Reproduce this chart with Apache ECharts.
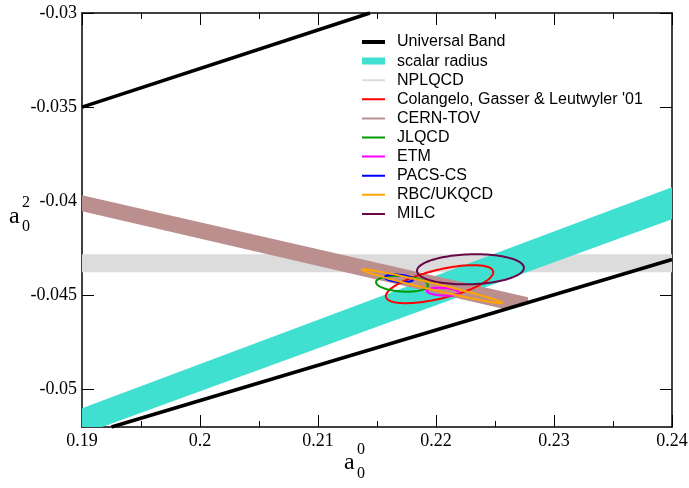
<!DOCTYPE html>
<html>
<head>
<meta charset="utf-8">
<script src="https://cdn.jsdelivr.net/npm/echarts@6/dist/echarts.min.js"></script>
<style>html,body{margin:0;padding:0;background:#fff}#chart{width:689px;height:488px}</style>
</head>
<body>
<div id="chart"></div>
<script>
// ---- axes ----
const xMin = 0.19, xMax = 0.24, xInterval = 0.01;
const yMin = -0.052, yMax = -0.03;
const xTickLabels = ['0.19', '0.2', '0.21', '0.22', '0.23', '0.24'];
const yTickValues = [-0.05, -0.045, -0.04, -0.035, -0.03];
const yTickLabels = ['-0.05', '-0.045', '-0.04', '-0.035', '-0.03'];

// ---- Universal Band (two black boundary lines) ----
const universalUpper = [[0.19, -0.035], [0.2144, -0.03]];
const universalLower = [[0.1925, -0.052], [0.24, -0.0431]];

// ---- bands (polygon outlines) ----
const scalarRadiusBand = [[0.19, -0.0510], [0.24, -0.03926], [0.24, -0.04096], [0.1917, -0.052], [0.19, -0.052]];
const nplqcdBand = [[0.19, -0.04282], [0.24, -0.04282], [0.24, -0.04378], [0.19, -0.04378]];
const cernTovBand = [[0.19, -0.03968], [0.2278, -0.04511], [0.2278, -0.04537], [0.22585, -0.04574], [0.19, -0.04053]];

// ---- error ellipses: [centre a0^0, centre a0^2, half-width, half-height, correlation] ----
const colangelo = [0.2203, -0.04441, 0.00455, 0.00101, 0.63];
const jlqcd = [0.21712, -0.04439, 0.0022, 0.00042, -0.2];
const etm = [0.22059, -0.04481, 0.00136, 0.00021, -0.2];
const pacsCs = [0.21686, -0.0441, 0.00119, 0.0002, -0.3];
const rbcUkqcd = [0.21966, -0.04452, 0.00593, 0.0009, -0.98];
const milc = [0.22292, -0.04362, 0.00453, 0.0008, 0.1];

const C = {
  universal: '#000000', scalar: '#40e0d0', nplqcd: '#dcdcdc', colangelo: '#ff0000',
  cern: '#bc8f8f', jlqcd: '#009a00', etm: '#ff00ff', pacs: '#0000ff', rbc: '#ffa500', milc: '#670748'
};

function bandSeries(name, pts, color, z) {
  return {
    name, type: 'custom', clip: true, z,
    data: pts, encode: { x: 0, y: 1 },
    renderItem(params, api) {
      if (params.dataIndex !== 0) return null;
      return { type: 'polygon', shape: { points: pts.map(p => api.coord(p)) }, style: { fill: color, stroke: null } };
    }
  };
}
function ellipseSeries(name, e, color, lw) {
  return {
    name, type: 'custom', clip: true, z: 10,
    data: [e], encode: { x: 0, y: 1 },
    renderItem(params, api) {
      const cx = api.value(0), cy = api.value(1), dx = api.value(2), dy = api.value(3), r = api.value(4);
      const s = Math.sqrt(1 - r * r), pts = [];
      for (let k = 0; k < 120; k++) {
        const t = 2 * Math.PI * k / 120;
        pts.push(api.coord([cx + dx * Math.cos(t), cy + dy * (r * Math.cos(t) + s * Math.sin(t))]));
      }
      return { type: 'polygon', shape: { points: pts }, style: { fill: 'none', stroke: color, lineWidth: lw } };
    }
  };
}
function icon(t) {
  const a = (7 - t / 2).toFixed(2);
  return 'path://M0,0h0.01v0.01h-0.01z M29.99,13.99h0.01v0.01h-0.01z M0,' + a + 'h23v' + t + 'h-23z';
}
const legendItems = [
  ['Universal Band', C.universal, 4], ['scalar radius', C.scalar, 7], ['NPLQCD', C.nplqcd, 2],
  ["Colangelo, Gasser & Leutwyler '01", C.colangelo, 2], ['CERN-TOV', C.cern, 2], ['JLQCD', C.jlqcd, 2],
  ['ETM', C.etm, 2], ['PACS-CS', C.pacs, 2], ['RBC/UKQCD', C.rbc, 2], ['MILC', C.milc, 2]
];

const serif = 'Liberation Serif';
const axisCommon = {
  type: 'value', splitLine: { show: false },
  axisLine: { show: true, onZero: false, lineStyle: { color: '#000', width: 1.5 } }
};
const xTickIdx = v => Math.round((v - xMin) / xInterval);
const yTickIdx = v => { let b = 0; yTickValues.forEach((t, i) => { if (Math.abs(t - v) < Math.abs(yTickValues[b] - v)) b = i; }); return b; };

const chart = echarts.init(document.getElementById('chart'), null, { renderer: 'canvas' });
chart.setOption({
  animation: false,
  backgroundColor: '#fff',
  grid: { left: 82, right: 17, top: 13, bottom: 61, containLabel: false, outerBoundsMode: 'none' },
  xAxis: [
    Object.assign({}, axisCommon, {
      position: 'bottom', min: xMin, max: xMax, interval: xInterval,
      axisTick: { show: true, inside: true, length: 12, lineStyle: { color: '#000', width: 1 } },
      minorTick: { show: true, splitNumber: 2, length: 6, lineStyle: { color: '#000', width: 1 } },
      axisLabel: { margin: 5, color: '#000', fontFamily: serif, fontSize: 18, formatter: v => xTickLabels[xTickIdx(v)] }
    }),
    Object.assign({}, axisCommon, {
      position: 'top', min: xMin, max: xMax, interval: xInterval,
      axisTick: { show: true, inside: true, length: 12, lineStyle: { color: '#000', width: 1 } },
      minorTick: { show: true, splitNumber: 2, length: 6, lineStyle: { color: '#000', width: 1 } },
      axisLabel: { show: false }
    })
  ],
  yAxis: [
    Object.assign({}, axisCommon, {
      position: 'left', min: yMin, max: yMax,
      axisTick: { show: true, inside: true, length: 12, customValues: yTickValues, lineStyle: { color: '#000', width: 1 } },
      axisLabel: { margin: 5, color: '#000', fontFamily: serif, fontSize: 18, customValues: yTickValues, formatter: v => yTickLabels[yTickIdx(v)] }
    }),
    Object.assign({}, axisCommon, {
      position: 'right', min: yMin, max: yMax,
      axisTick: { show: true, inside: true, length: 12, customValues: yTickValues, lineStyle: { color: '#000', width: 1 } },
      axisLabel: { show: false }
    })
  ],
  legend: {
    orient: 'vertical', left: 362, top: 34, itemWidth: 30, itemHeight: 14, itemGap: 3.1,
    selectedMode: false, padding: 0,
    textStyle: { fontFamily: 'Liberation Sans', fontSize: 16, color: '#000', lineHeight: 14 },
    data: legendItems.map(([name, color, t]) => ({ name, icon: icon(t), itemStyle: { color, borderWidth: 0 } }))
  },
  graphic: [
    { type: 'text', left: 9, top: 205, style: { text: 'a', font: '24px "Liberation Serif"', fill: '#000' } },
    { type: 'text', left: 22, top: 195, style: { text: '2', font: '16px "Liberation Serif"', fill: '#000' } },
    { type: 'text', left: 22, top: 219, style: { text: '0', font: '16px "Liberation Serif"', fill: '#000' } },
    { type: 'text', left: 344, top: 451, style: { text: 'a', font: '24px "Liberation Serif"', fill: '#000' } },
    { type: 'text', left: 357, top: 442, style: { text: '0', font: '16px "Liberation Serif"', fill: '#000' } },
    { type: 'text', left: 357, top: 466, style: { text: '0', font: '16px "Liberation Serif"', fill: '#000' } }
  ],
  series: [
    bandSeries('NPLQCD', nplqcdBand, C.nplqcd, 1),
    bandSeries('scalar radius', scalarRadiusBand, C.scalar, 2),
    bandSeries('CERN-TOV', cernTovBand, C.cern, 3),
    { name: 'Universal Band', type: 'line', data: universalUpper, symbol: 'none', z: 5, lineStyle: { color: C.universal, width: 3.5 }, itemStyle: { color: C.universal } },
    { name: 'Universal Band', type: 'line', data: universalLower, symbol: 'none', z: 5, lineStyle: { color: C.universal, width: 3.5 }, itemStyle: { color: C.universal } },
    ellipseSeries("Colangelo, Gasser & Leutwyler '01", colangelo, C.colangelo, 2),
    ellipseSeries('JLQCD', jlqcd, C.jlqcd, 2),
    ellipseSeries('ETM', etm, C.etm, 2.2),
    ellipseSeries('PACS-CS', pacsCs, C.pacs, 2.2),
    ellipseSeries('RBC/UKQCD', rbcUkqcd, C.rbc, 2),
    ellipseSeries('MILC', milc, C.milc, 2)
  ]
});
</script>
</body>
</html>
